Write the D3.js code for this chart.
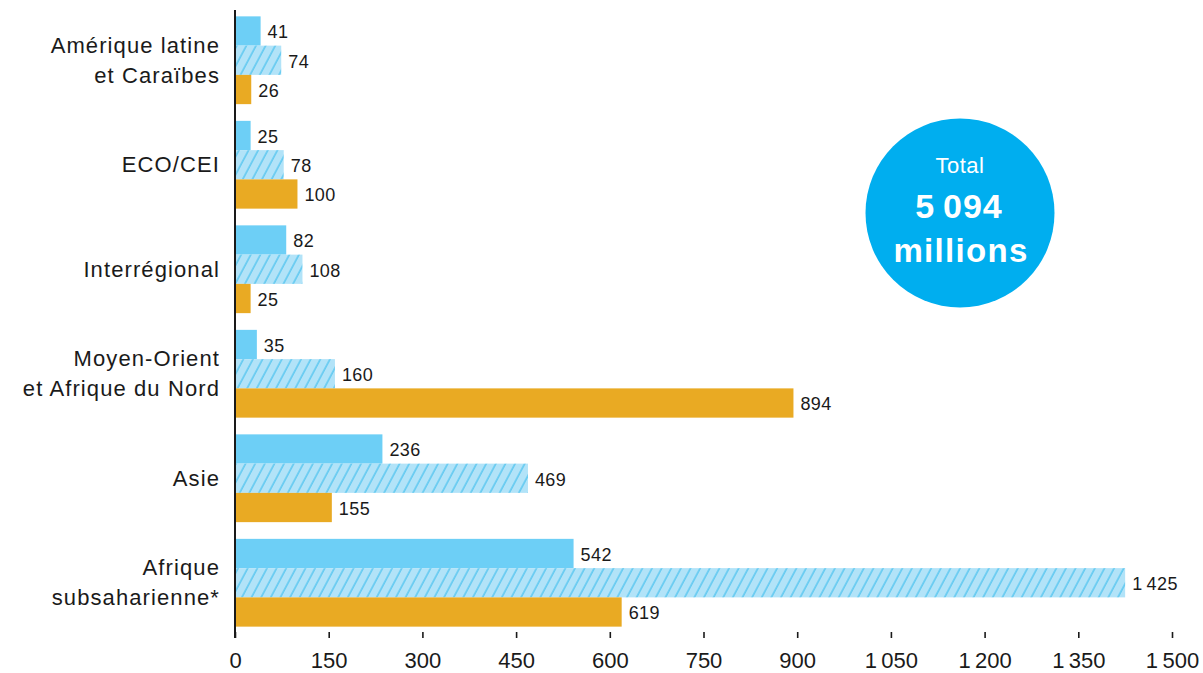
<!DOCTYPE html>
<html>
<head>
<meta charset="utf-8">
<script src="https://cdn.jsdelivr.net/npm/d3@7"></script>
<style>
  html, body { margin: 0; padding: 0; background: #ffffff; }
  svg { display: block; font-family: "Liberation Sans", Arial, sans-serif; }
</style>
</head>
<body>
<svg id="chart" width="1203" height="673"></svg>
<script>
// ---- data ----
const categories = [
  "Amérique latine\net Caraïbes",
  "ECO/CEI",
  "Interrégional",
  "Moyen-Orient\net Afrique du Nord",
  "Asie",
  "Afrique\nsubsaharienne*"
];
const seriesNames = ["serie1", "serie2", "serie3"];
const serie1 = [41, 25, 82, 35, 236, 542];
const serie2 = [74, 78, 108, 160, 469, 1425];
const serie3 = [26, 100, 25, 894, 155, 619];
const xTicks = [0, 150, 300, 450, 600, 750, 900, 1050, 1200, 1350, 1500];
const totalLabel = "Total";
const unitLabel = "millions";

// ---- setup ----
const svg = d3.select("#chart");
const locale = d3.formatLocale({ decimal: ",", thousands: "\u2009", grouping: [3], currency: ["", " €"] });
const fmt = locale.format(",d");

const x = d3.scaleLinear().domain([0, 1500]).range([235, 1172]);
const y = d3.scaleBand().domain(categories).range([8, 635]).paddingInner(0.16).paddingOuter(0.08);
const yi = d3.scaleBand().domain(seriesNames).range([0, y.bandwidth()]).padding(0);

const seriesValues = [serie1, serie2, serie3];
const rows = [];
categories.forEach((c, i) => {
  seriesNames.forEach((s, j) => rows.push({ cat: c, s: s, v: seriesValues[j][i] }));
});

// hatch pattern
const defs = svg.append("defs");
const pat = defs.append("pattern")
  .attr("id", "hatch")
  .attr("patternUnits", "userSpaceOnUse")
  .attr("width", 8.5).attr("height", 8.5)
  .attr("patternTransform", "rotate(28)");
pat.append("rect").attr("width", 8.5).attr("height", 8.5).attr("fill", "#b2e3f8");
pat.append("line").attr("x1", 1).attr("y1", 0).attr("x2", 1).attr("y2", 8.5)
  .attr("stroke", "#3dbeee").attr("stroke-width", 1.1);

const fills = { serie1: "#6dcff6", serie2: "url(#hatch)", serie3: "#e9aa23" };

// bars
svg.append("g").selectAll("rect").data(rows).join("rect")
  .attr("x", x(0))
  .attr("y", d => y(d.cat) + yi(d.s))
  .attr("width", d => x(d.v) - x(0))
  .attr("height", yi.bandwidth())
  .attr("fill", d => fills[d.s]);

// value labels
svg.append("g").selectAll("text").data(rows).join("text")
  .attr("x", d => x(d.v) + 7)
  .attr("y", d => y(d.cat) + yi(d.s) + yi.bandwidth() / 2 + 1)
  .attr("dy", "0.35em")
  .attr("font-size", 18)
  .attr("letter-spacing", 0.4)
  .attr("fill", "#1a1a1a")
  .text(d => fmt(d.v));

// category labels
const catG = svg.append("g");
categories.forEach(c => {
  const lines = c.split("\n");
  const cy = y(c) + y.bandwidth() / 2;
  const lh = 30;
  const t = catG.append("text")
    .attr("text-anchor", "end")
    .attr("font-size", 22)
    .attr("letter-spacing", 1.1)
    .attr("fill", "#1a1a1a");
  lines.forEach((ln, k) => {
    t.append("tspan")
      .attr("x", 220)
      .attr("y", cy + (k - (lines.length - 1) / 2) * lh)
      .attr("dy", "0.35em")
      .text(ln);
  });
});

// x axis (ticks + labels, no domain line)
const xAxis = d3.axisBottom(x).tickValues(xTicks).tickSize(6).tickPadding(14).tickFormat(d => fmt(d));
const ax = svg.append("g").attr("transform", "translate(0,632)").call(xAxis);
ax.select(".domain").remove();
ax.selectAll(".tick line").attr("stroke", "#1a1a1a").attr("stroke-width", 1.6);
ax.selectAll(".tick text").attr("font-size", 22)
  .attr("fill", "#1a1a1a").attr("font-family", "\"Liberation Sans\", Arial, sans-serif");

// vertical zero line
svg.append("line")
  .attr("x1", x(0)).attr("x2", x(0))
  .attr("y1", 10).attr("y2", 638)
  .attr("stroke", "#1a1a1a").attr("stroke-width", 2);

// total bubble
const total = d3.sum(seriesValues.flat());
const cx = 960, cyc = 213;
svg.append("circle").attr("cx", cx).attr("cy", cyc).attr("r", 94.5).attr("fill", "#00aeef");
svg.append("text").attr("x", cx).attr("y", cyc - 40).attr("text-anchor", "middle")
  .attr("font-size", 22).attr("fill", "#ffffff").attr("letter-spacing", 0.5).text(totalLabel);
svg.append("text").attr("x", cx - 1).attr("y", cyc + 5).attr("text-anchor", "middle")
  .attr("font-size", 34).attr("font-weight", "bold").attr("fill", "#ffffff").attr("letter-spacing", 1)
  .text(fmt(total));
svg.append("text").attr("x", cx + 1).attr("y", cyc + 49).attr("text-anchor", "middle")
  .attr("font-size", 33).attr("font-weight", "bold").attr("fill", "#ffffff").attr("letter-spacing", 1.3)
  .text(unitLabel);
</script>
</body>
</html>
